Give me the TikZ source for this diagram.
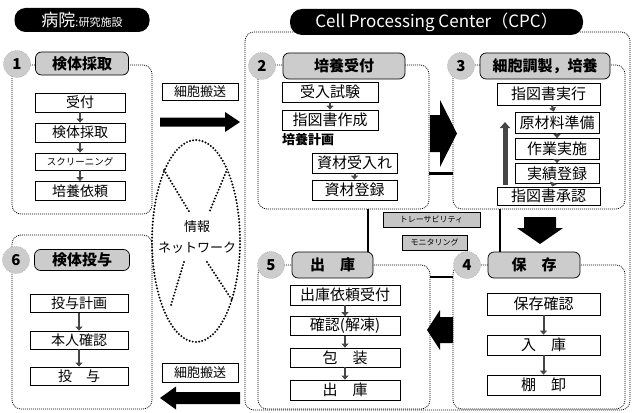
\documentclass[tikz,border=0pt]{standalone}
\usepackage{fontspec}
\setmainfont{Noto Sans CJK JP}
\usetikzlibrary{arrows.meta}
\tikzset{
 grp/.style={draw, line width=0.7pt, dash pattern=on 1pt off 1pt, rounded corners=9pt},
 hdr/.style={draw, line width=0.7pt, rounded corners=6pt, fill=gray!40, inner sep=0pt, font=\bfseries\fontsize{15}{15}\selectfont},
 num/.style={circle, fill=gray!40, draw=gray!70, dash pattern=on 1pt off 1pt, inner sep=0pt, minimum size=27pt, font=\bfseries\fontsize{15}{15}\selectfont},
 stepbox/.style={draw, fill=white, line width=0.8pt, inner sep=0pt, font=\fontsize{14}{14}\selectfont},
 cstep/.style={stepbox, font=\fontsize{15}{15}\selectfont},
 flow/.style={-{Triangle[width=7pt,length=4pt]}, line width=2pt, gray!55!black},
 pill/.style={fill=black, text=white, inner sep=0pt},
 link/.style={line width=2.4pt},
 tag/.style={draw, fill=gray!45, line width=0.6pt, inner sep=0pt, font=\fontsize{8}{8}\selectfont},
 carry/.style={draw, fill=white, line width=0.8pt, inner sep=0pt, font=\fontsize{13}{13}\selectfont},
 dotnet/.style={line width=2.2pt, dash pattern=on 0pt off 3.2pt, line cap=round},
}
\begin{document}
\begin{tikzpicture}[x=1pt,y=-1pt]
\useasboundingbox (0,0) rectangle (634,412);
% ---------- hospital side ----------
\node[pill, rounded corners=11pt, minimum width=135pt, minimum height=24pt] (hosp) at (82,20)
  {\fontsize{17}{17}\selectfont 病院\fontsize{11}{11}\selectfont :研究施設};
\node[grp, minimum width=140pt, minimum height=149pt] (g1) at (82,139.5) {};
\node[grp, minimum width=140pt, minimum height=174pt] (g6) at (82,322) {};
% ---------- CPC ----------
\node[grp, minimum width=385pt, minimum height=378pt] (cpc) at (437.5,221) {};
\node[pill, rounded corners=12pt, minimum width=293pt, minimum height=26pt,
      font=\fontsize{17}{17}\selectfont] (cpct) at (436.5,22) {Cell Processing Center（CPC）};
\node[grp, minimum width=171pt, minimum height=144pt] (g2) at (343.5,137) {};
\node[grp, minimum width=172pt, minimum height=144pt] (g3) at (539,137) {};
\node[grp, minimum width=172pt, minimum height=144pt] (g5) at (344,337) {};
\node[grp, minimum width=172pt, minimum height=144pt] (g4) at (539,337) {};
% ---------- headers ----------
\node[hdr, minimum width=93pt, minimum height=23pt] (h1) at (82,63.5) {検体採取};
\node[hdr, minimum width=95pt, minimum height=21pt] (h6) at (82,260) {検体投与};
\node[hdr, minimum width=122pt, minimum height=26pt] (h2) at (344,66) {培養受付};
\node[hdr, minimum width=130pt, minimum height=26pt] (h3) at (545,66) {細胞調製，培養};
\node[hdr, minimum width=81pt, minimum height=26pt] (h5) at (332.5,265) {出　庫};
\node[hdr, minimum width=92pt, minimum height=26pt] (h4) at (534,265) {保　存};
\node[num] (c1) at (17,64) {1};
\node[num] (c6) at (16,260) {6};
\node[num] (c2) at (262,66) {2};
\node[num] (c3) at (461,66) {3};
\node[num] (c5) at (271,265) {5};
\node[num] (c4) at (467,265) {4};
% ---------- box 1 ----------
\node[stepbox, minimum width=90pt, minimum height=19pt] (s11) at (80,102.5) {受付};
\node[stepbox, minimum width=90pt, minimum height=19pt] (s12) at (80,132.5) {検体採取};
\node[stepbox, minimum width=90pt, minimum height=17pt, font=\fontsize{9.5}{9.5}\selectfont] (s13) at (80,161.5) {スクリーニング};
\node[stepbox, minimum width=90pt, minimum height=19pt] (s14) at (80,191) {培養依頼};
\draw[flow] (s11) -- (s12);
\draw[flow] (s12) -- (s13);
\draw[flow] (s13) -- (s14);
% ---------- box 6 ----------
\node[stepbox, minimum width=98pt, minimum height=18pt] (s61) at (79,303.5) {投与計画};
\node[stepbox, minimum width=98pt, minimum height=18pt] (s62) at (79,340) {本人確認};
\node[stepbox, minimum width=98pt, minimum height=18pt] (s63) at (79,376) {投　与};
\draw[flow] (s61) -- (s62);
\draw[flow] (s62) -- (s63);
% ---------- box 2 ----------
\node[cstep, minimum width=96pt, minimum height=20pt] (s21) at (330,92) {受入試験};
\node[cstep, minimum width=96pt, minimum height=20pt] (s22) at (330,120) {指図書作成};
\node[inner sep=0pt, font=\bfseries\fontsize{13}{13}\selectfont] (plan) at (308,140) {培養計画};
\node[cstep, minimum width=85pt, minimum height=20pt] (s23) at (354.5,163) {資材受入れ};
\node[cstep, minimum width=85pt, minimum height=20pt] (s24) at (354.5,190) {資材登録};
\draw[flow] (s21) -- (s22);
\draw[flow] (s23) -- (s24);
% ---------- box 3 ----------
\node[cstep, minimum width=103pt, minimum height=22pt] (s31) at (548.5,94) {指図書実行};
\node[cstep, minimum width=84pt, minimum height=21pt] (s32) at (557,122.5) {原材料準備};
\node[cstep, minimum width=84pt, minimum height=21pt] (s33) at (557,149) {作業実施};
\node[cstep, minimum width=84pt, minimum height=20pt] (s34) at (557,173.5) {実績登録};
\node[cstep, minimum width=103pt, minimum height=18pt] (s35) at (548.5,196) {指図書承認};
\draw[flow] (s31) -- (s32);
\draw[flow] (s32) -- (s33);
\draw[flow] (s33) -- (s34);
\draw[flow] (s34) -- (s35);
\coordinate (upa) at (505,185);
\coordinate (upb) at (505,122);
\draw[line width=5pt, gray!55!black, -{Triangle[width=10pt,length=6pt]}] (upa) -- (upb);
% ---------- box 5 ----------
\node[cstep, minimum width=110pt, minimum height=20pt] (s51) at (345,295) {出庫依頼受付};
\node[cstep, minimum width=110pt, minimum height=19pt] (s52) at (345,326) {確認(解凍)};
\node[cstep, minimum width=110pt, minimum height=19pt] (s53) at (345,357.5) {包　装};
\node[cstep, minimum width=110pt, minimum height=20pt] (s54) at (345,390) {出　庫};
\draw[flow] (s51) -- (s52);
\draw[flow] (s52) -- (s53);
\draw[flow] (s53) -- (s54);
% ---------- box 4 ----------
\node[cstep, minimum width=113pt, minimum height=22pt] (s41) at (543.5,304) {保存確認};
\node[cstep, minimum width=113pt, minimum height=20pt] (s42) at (543.5,345) {入　庫};
\node[cstep, minimum width=113pt, minimum height=20pt] (s43) at (543.5,385) {棚　卸};
\draw[flow] (s41) -- (s42);
\draw[flow] (s42) -- (s43);
% ---------- links inside CPC ----------
\draw[link] (g2.east |- s34.center) -- (g3.west |- s34.center);
\coordinate (l25a) at (368,209);
\coordinate (l25b) at (368,252);
\draw[link] (l25a) -- (l25b);
\coordinate (l34a) at (500,209);
\coordinate (l34b) at (500,252);
\draw[link] (l34a) -- (l34b);
\coordinate (l54a) at (430,277);
\coordinate (l54b) at (453,277);
\draw[link] (l54a) -- (l54b);
\node[tag, minimum width=97pt, minimum height=15pt] (trace) at (431.5,219.5) {トレーサビリティ};
\node[tag, minimum width=65pt, minimum height=15pt] (moni) at (434.5,242.5) {モニタリング};
% ---------- big arrows ----------
\fill (430,115) -- (440,115) -- (440,100) -- (457,133.5) -- (440,167) -- (440,152) -- (430,152) -- cycle;
\fill (524,217) -- (556,217) -- (556,228) -- (563,228) -- (540,244) -- (517,228) -- (524,228) -- cycle;
\fill (453,317) -- (440,317) -- (440,310) -- (427,330) -- (440,350) -- (440,343) -- (453,343) -- cycle;
% ---------- transfer ----------
\node[carry, minimum width=76pt, minimum height=17pt] (t1) at (200,91.5) {細胞搬送};
\node[carry, minimum width=76pt, minimum height=19pt] (t2) at (200,372.5) {細胞搬送};
\fill (160,117.5) -- (225,117.5) -- (225,112) -- (240,122) -- (225,132) -- (225,126.5) -- (160,126.5) -- cycle;
\fill (240,392) -- (176,392) -- (176,386.5) -- (160,398) -- (176,409.5) -- (176,404) -- (240,404) -- cycle;
% ---------- network ----------
\draw[dotnet] (196,241) ellipse [x radius=44, y radius=101];
\coordinate (xa) at (164,170); \coordinate (xb) at (190,213);
\coordinate (xc) at (226,172); \coordinate (xd) at (209,213);
\coordinate (xe) at (184,262); \coordinate (xf) at (171,305);
\coordinate (xg) at (207,262); \coordinate (xh) at (232,300);
\draw[dotnet] (xa) -- (xb);
\draw[dotnet] (xc) -- (xd);
\draw[dotnet] (xe) -- (xf);
\draw[dotnet] (xg) -- (xh);
\node[align=center, inner sep=0pt, font=\fontsize{13}{21}\selectfont] (net) at (197,237) {情報\\ネットワーク};
\end{tikzpicture}
\end{document}
